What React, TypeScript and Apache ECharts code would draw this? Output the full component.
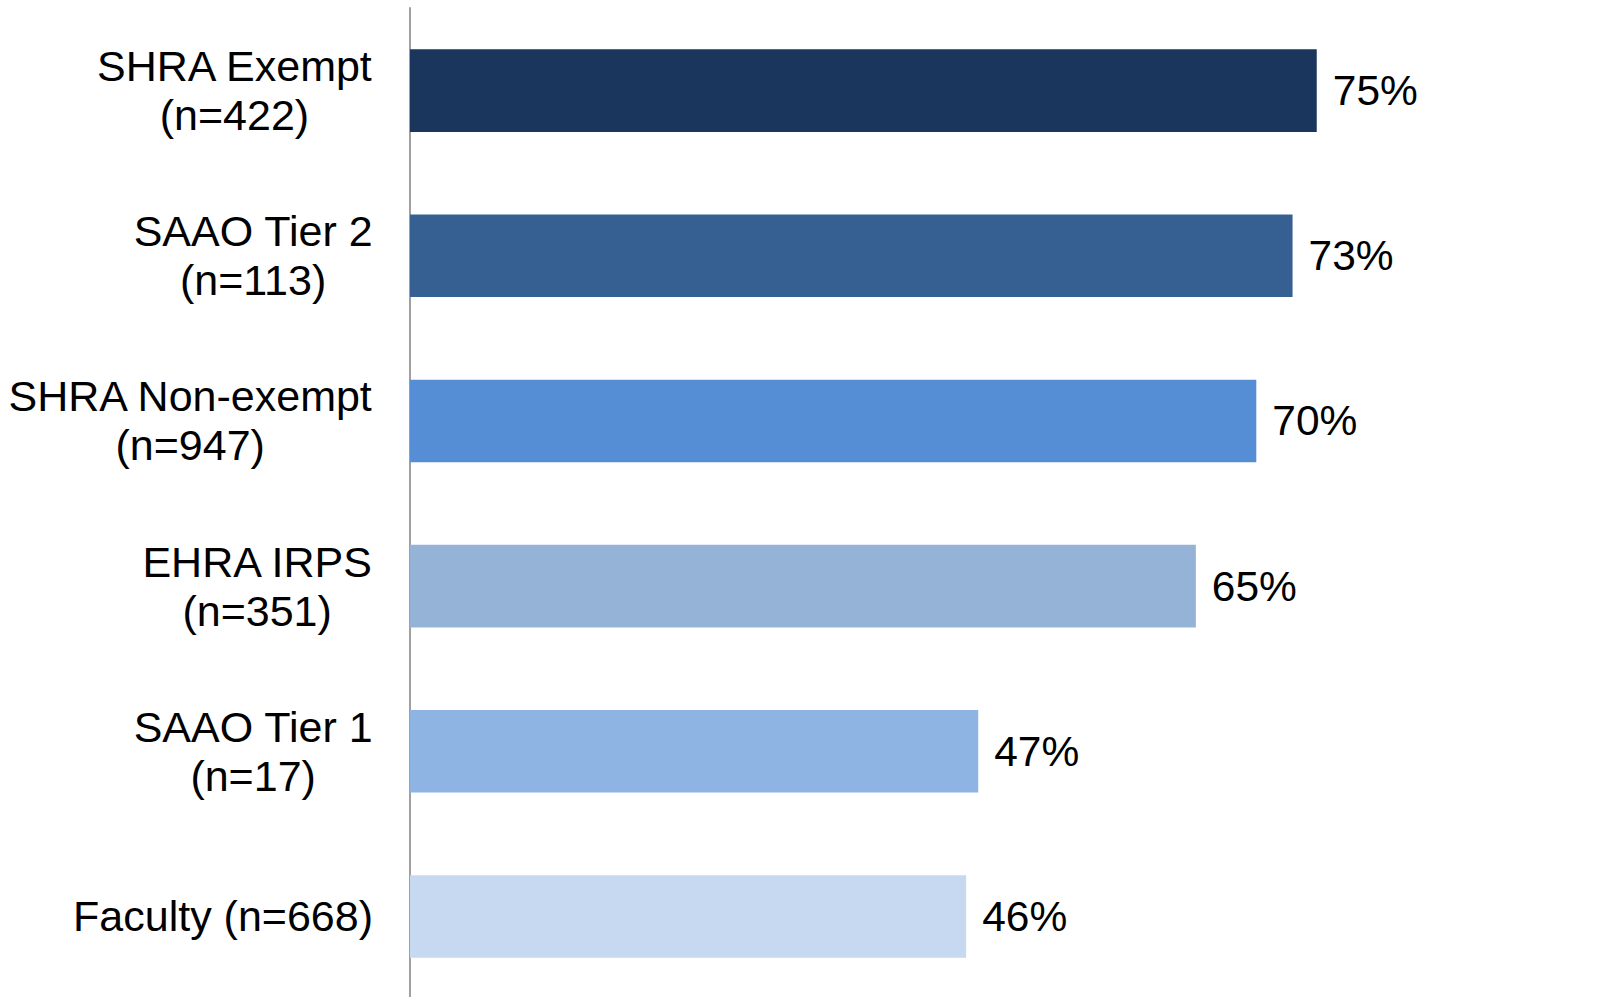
import React, { useEffect, useRef } from "react";
import * as echarts from "echarts";

const groupNames = [
  "SHRA Exempt",
  "SAAO Tier 2",
  "SHRA Non-exempt",
  "EHRA IRPS",
  "SAAO Tier 1",
  "Faculty",
];
const sampleSizes = [422, 113, 947, 351, 17, 668];
const singleLine = [false, false, false, false, false, true];
const percentValues = [75, 73, 70, 65, 47, 46];
const barColors = ["#1A365D", "#376092", "#558ED5", "#95B3D7", "#8EB4E3", "#C6D9F1"];

const FONT = "Liberation Sans, Arial, Helvetica, sans-serif";

export default function App() {
  const ref = useRef<HTMLDivElement>(null);

  useEffect(() => {
    if (!ref.current) return;
    const chart = echarts.init(ref.current, undefined, { renderer: "svg" });

    const categories = groupNames.map((name, i) =>
      singleLine[i] ? `${name} (n=${sampleSizes[i]})` : `${name}\n(n=${sampleSizes[i]})`
    );

    chart.setOption({
      animation: false,
      backgroundColor: "#ffffff",
      textStyle: { fontFamily: FONT },
      grid: {
        left: 410,
        top: 8,
        width: 1209,
        height: 991,
        containLabel: false,
        outerBoundsMode: "none",
      },
      xAxis: {
        type: "value",
        min: 0,
        max: 100,
        show: false,
        splitLine: { show: false },
      },
      yAxis: {
        type: "category",
        inverse: true,
        data: categories,
        axisTick: { show: false },
        axisLine: { show: true, lineStyle: { color: "#A0A0A0", width: 2 } },
        splitLine: { show: false },
        axisLabel: {
          margin: 37,
          fontFamily: FONT,
          formatter: (v: string) =>
            v
              .split("\n")
              .map((line) => `{c|${line}}`)
              .join("\n"),
          rich: {
            c: {
              align: "center",
              fontSize: 43,
              lineHeight: 49,
              color: "#000000",
              fontFamily: FONT,
            },
          },
        },
      },
      series: [
        {
          type: "bar",
          barWidth: "50%",
          data: percentValues.map((v, i) => ({
            value: v,
            itemStyle: { color: barColors[i] },
          })),
          label: {
            show: true,
            position: "right",
            distance: 16,
            formatter: "{c}%",
            fontSize: 42.5,
            color: "#000000",
            fontFamily: FONT,
          },
        },
      ],
    });

    return () => chart.dispose();
  }, []);

  return (
    <div
      ref={ref}
      style={{ position: "absolute", left: 0, top: 0, width: 1614, height: 997 }}
    />
  );
}
